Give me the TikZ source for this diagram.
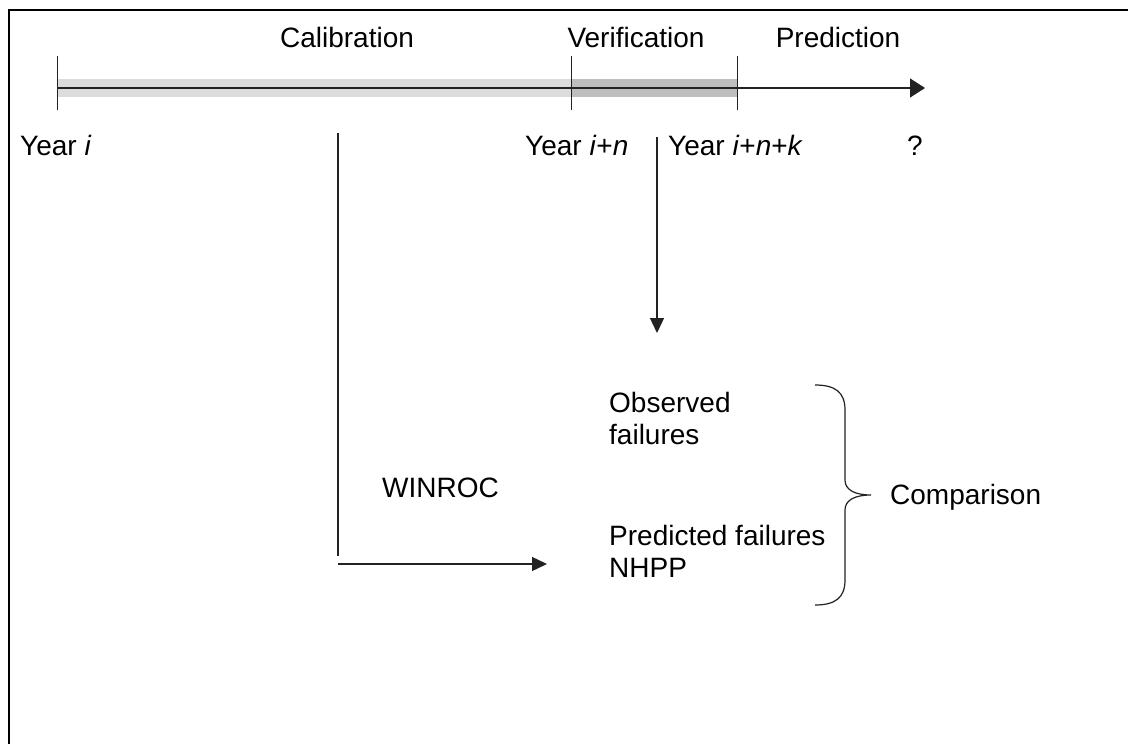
\documentclass[tikz,border=0pt]{standalone}
\usepackage{fontspec}
\setmainfont{Liberation Sans}
\usetikzlibrary{arrows.meta}
\definecolor{calband}{HTML}{DCDCDC}
\definecolor{verband}{HTML}{BEBEBE}
\definecolor{ink}{HTML}{222222}
\begin{document}
\begin{tikzpicture}[x=1pt,y=-1pt,
  txt/.style={inner sep=0pt,font=\fontsize{28}{32}\selectfont},
  rule/.style={draw=ink,line width=1.3pt},
  bigtip/.style={-{Triangle[length=15pt,width=19pt]}},
  smalltip/.style={-{Triangle[length=15pt,width=14pt]}}]
\useasboundingbox (0,0) rectangle (1128,744);
\fill[white] (0,0) rectangle (1128,744);

% outer frame (left and top edges)
\draw[line width=2.2pt] (9,750) -- (9,10) -- (1140,10);

% time axis with calibration and verification periods
\coordinate (t0) at (57,88);
\coordinate (t1) at (571,88);
\coordinate (t2) at (737,88);
\coordinate (tend) at (925,88);
\fill[calband] (57,79) rectangle (571,97);
\fill[verband] (571,79) rectangle (737,97);
\draw[rule,bigtip] (t0) -- (tend);
\foreach \t in {t0,t1,t2}
  \draw[line width=1pt,draw=ink] ([yshift=-22pt]\t) -- ([yshift=32pt]\t);

% period titles
\node[txt,anchor=base] (cal) at (347,47) {Calibration};
\node[txt,anchor=base] (ver) at (636,47) {Verification};
\node[txt,anchor=base] (pre) at (838,47) {Prediction};

% year marks
\node[txt,anchor=base west] (y0) at (20,155) {Year \textit{i}};
\node[txt,anchor=base west] (y1) at (525,155) {Year \textit{i}+\textit{n}};
\node[txt,anchor=base west] (y2) at (668,155) {Year \textit{i}+\textit{n}+\textit{k}};
\node[txt,anchor=base] (yq) at (915,155) {?};

% calibration path through WINROC
\coordinate (c0) at (338,133);
\coordinate (c1) at (338,556);
\coordinate (h0) at (338,564);
\coordinate (h1) at (547,564);
\draw[rule] (c0) -- (c1);
\draw[rule,smalltip] (h0) -- (h1);
\node[txt,anchor=base west] (win) at (382,497) {WINROC};

% verification data
\coordinate (v0) at (657,137);
\coordinate (v1) at (657,333);
\draw[rule,smalltip] (v0) -- (v1);

% compared quantities
\node[txt,anchor=base west] (obs1) at (609,412) {Observed};
\node[txt,anchor=base west] (obs2) at (609,444) {failures};
\node[txt,anchor=base west] (prd1) at (609,545) {Predicted failures};
\node[txt,anchor=base west] (prd2) at (609,577) {NHPP};

% brace grouping both quantities
\draw[draw=ink,line width=1.2pt]
  (815,385) .. controls (835,385) and (845,392) .. (845,410)
  -- (845,480) .. controls (845,490) and (855,495) .. (871,495)
  .. controls (855,495) and (845,500) .. (845,510)
  -- (845,580) .. controls (845,598) and (835,605) .. (815,605);
\node[txt,anchor=west] (cmp) at (890,497) {Comparison};
\end{tikzpicture}
\end{document}
